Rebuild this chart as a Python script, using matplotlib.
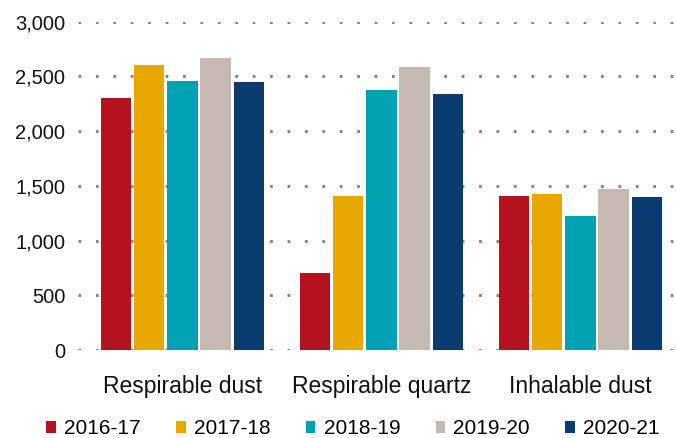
import matplotlib.pyplot as plt
import numpy as np

plt.rcParams['font.family'] = ['Liberation Sans', 'DejaVu Sans']

categories = ['Respirable dust', 'Respirable quartz', 'Inhalable dust']
years = ['2016-17', '2017-18', '2018-19', '2019-20', '2020-21']
colors = ['#B5121F', '#E8A800', '#00A1B0', '#C6B9B1', '#0A3C70']

# samples per year, one list per category order above
v_2016 = [2300, 700, 1410]
v_2017 = [2600, 1405, 1430]
v_2018 = [2460, 2380, 1220]
v_2019 = [2670, 2590, 1470]
v_2020 = [2450, 2335, 1395]
series = [v_2016, v_2017, v_2018, v_2019, v_2020]

fig = plt.figure(figsize=(6.76, 4.38), dpi=100)
ax = fig.add_axes([78 / 676, 88 / 438, 598 / 676, (350 - 21.7) / 438])

x = np.arange(len(categories))
pitch = 0.166
width = 0.151
for i, (vals, c) in enumerate(zip(series, colors)):
    ax.bar(x + (i - 2) * pitch, vals, width, color=c, label=years[i], zorder=2)

ax.set_ylim(0, 3000)
ax.set_xlim(-0.525, 2.48)
ax.set_yticks(range(0, 3001, 500))
ax.set_yticklabels([f'{v:,}' for v in range(0, 3001, 500)])
ax.set_xticks(x)
ax.set_xticklabels(categories)
ax.tick_params(axis='y', length=0, pad=9, labelsize=14.5, labelcolor='#111111')
ax.tick_params(axis='x', length=0, pad=18, labelsize=16.5, labelcolor='#111111')
for s in ax.spines.values():
    s.set_visible(False)
ax.yaxis.grid(True, color='#888888', linestyle=(0, (0.9, 4.8)), linewidth=2.2, zorder=0)
ax.set_axisbelow(True)

handles, labels = ax.get_legend_handles_labels()
fig.legend(handles, labels, loc='center', bbox_to_anchor=(353 / 676, 1 - 429 / 438), ncol=5,
           frameon=False, fontsize=15, handlelength=0.45, handleheight=0.45,
           handletextpad=0.4, columnspacing=1.7)

fig.savefig('out.png', dpi=100)
